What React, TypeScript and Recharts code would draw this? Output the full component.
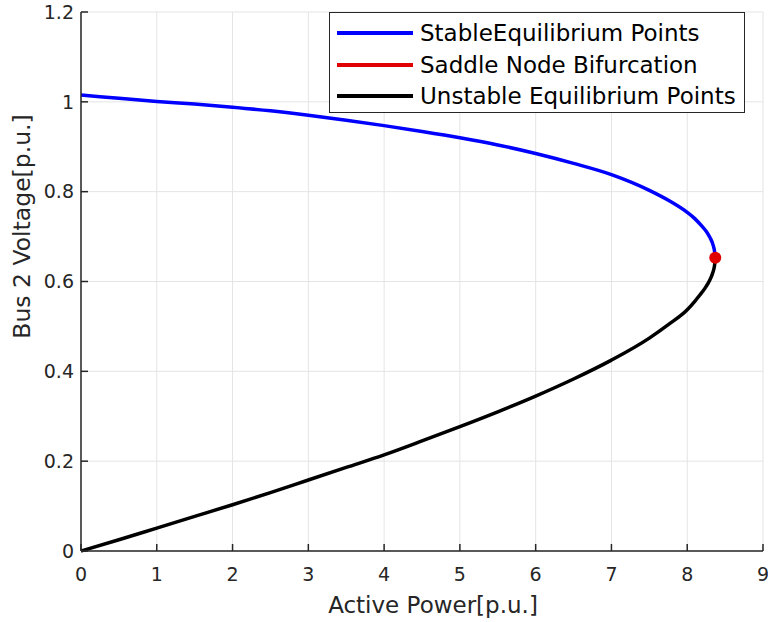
import React from 'react';
import { ComposedChart, Line, Scatter, XAxis, YAxis, CartesianGrid, Legend } from 'recharts';

const P_STABLE = [0, 0.5, 1, 1.5, 2, 2.5, 3, 3.5, 4, 4.5, 5, 5.5, 6, 6.5, 7, 7.5, 7.75, 8, 8.1, 8.2, 8.25, 8.3, 8.33, 8.35, 8.36, 8.37];
const V_STABLE = [1.015, 1.008, 1.001, 0.995, 0.988, 0.98, 0.97, 0.959, 0.947, 0.934, 0.92, 0.904, 0.885, 0.863, 0.838, 0.803, 0.781, 0.754, 0.74, 0.722, 0.712, 0.698, 0.687, 0.676, 0.668, 0.653];

const P_UNSTABLE = [0, 0.5, 1, 1.5, 2, 2.5, 3, 3.5, 4, 4.5, 5, 5.5, 6, 6.5, 7, 7.5, 7.75, 8, 8.1, 8.2, 8.25, 8.3, 8.33, 8.35, 8.36, 8.37];
const V_UNSTABLE = [0, 0.025, 0.051, 0.077, 0.103, 0.13, 0.158, 0.186, 0.214, 0.245, 0.277, 0.31, 0.345, 0.383, 0.425, 0.474, 0.504, 0.537, 0.556, 0.577, 0.589, 0.604, 0.616, 0.627, 0.635, 0.653];

const P_SADDLE = [8.37];
const V_SADDLE = [0.653];

const X_TICKS = [0, 1, 2, 3, 4, 5, 6, 7, 8, 9];
const Y_TICKS = [0, 0.2, 0.4, 0.6, 0.8, 1, 1.2];

const SERIES_NAMES = ['StableEquilibrium Points', 'Saddle Node Bifurcation', 'Unstable Equilibrium Points'];
const SERIES_COLORS = ['#0000ff', '#e00000', '#000000'];

const X_LABEL = 'Active Power[p.u.]';
const Y_LABEL = 'Bus 2 Voltage[p.u.]';

const stableData = P_STABLE.map((p, i) => ({ P: p, V: V_STABLE[i] }));
const unstableData = P_UNSTABLE.map((p, i) => ({ P: p, V: V_UNSTABLE[i] }));
const saddleData = P_SADDLE.map((p, i) => ({ P: p, V: V_SADDLE[i] }));

const FONT = 'DejaVu Sans';
const AXIS_COLOR = '#262626';

const fmtY = (v: number) => (v === 0 ? '0' : v === 1 ? '1' : String(Number(v.toFixed(1))));

const LegendBox = () => (
  <div
    style={{
      position: 'relative',
      width: 416,
      height: 101,
      boxSizing: 'border-box',
      border: '1.5px solid #262626',
      background: '#fff',
      fontFamily: FONT,
      fontSize: 23,
      color: '#000',
      textAlign: 'left',
    }}
  >
    {SERIES_NAMES.map((n, i) => (
      <div
        key={n}
        style={{
          position: 'absolute',
          left: 7,
          top: [3, 35, 66][i],
          height: 33,
          display: 'flex',
          alignItems: 'center',
          whiteSpace: 'nowrap',
        }}
      >
        <div style={{ width: 76, height: 4, background: SERIES_COLORS[i], marginRight: 7 }} />
        <span>{n}</span>
      </div>
    ))}
  </div>
);

const YLabel = (props: any) => {
  const vb = props.viewBox || { x: 0, y: 12, width: 81, height: 539 };
  const cx = 30;
  const cy = vb.y + vb.height / 2 - 55;
  return (
    <text
      x={cx}
      y={cy}
      transform={`rotate(-90, ${cx}, ${cy})`}
      textAnchor="middle"
      fill={AXIS_COLOR}
      fontFamily={FONT}
      fontSize={23.5}
    >
      {Y_LABEL}
    </text>
  );
};

export default function App() {
  return (
    <div style={{ position: 'fixed', left: 0, top: 0, width: 768, height: 622, background: '#fff' }}>
      <ComposedChart width={768} height={622} margin={{ top: 12, right: 5, left: 0, bottom: 0 }}>
        <CartesianGrid stroke="#e4e4e4" strokeWidth={1} />
        <XAxis
          xAxisId={0}
          dataKey="P"
          type="number"
          domain={[0, 9]}
          ticks={X_TICKS}
          interval={0}
          height={71}
          stroke={AXIS_COLOR}
          strokeWidth={1.5}
          tickSize={-7}
          tickMargin={24}
          tick={{ fill: AXIS_COLOR, fontSize: 19, fontFamily: FONT }}
          label={{ value: X_LABEL, position: 'insideBottom', offset: 9, dx: 11, fill: AXIS_COLOR, fontSize: 23, fontFamily: FONT }}
        />
        <XAxis
          xAxisId="top"
          orientation="top"
          dataKey="P"
          type="number"
          domain={[0, 9]}
          ticks={X_TICKS}
          interval={0}
          height={0}
          stroke={AXIS_COLOR}
          strokeWidth={1.5}
          tickSize={-7}
          tick={false}
        />
        <YAxis
          yAxisId={0}
          dataKey="V"
          type="number"
          domain={[0, 1.2]}
          ticks={Y_TICKS}
          interval={0}
          width={81}
          stroke={AXIS_COLOR}
          strokeWidth={1.5}
          tickSize={-7}
          tickMargin={14}
          tickFormatter={fmtY}
          tick={{ fill: AXIS_COLOR, fontSize: 19, fontFamily: FONT }}
          label={<YLabel />}
        />
        <YAxis
          yAxisId="right"
          orientation="right"
          dataKey="V"
          type="number"
          domain={[0, 1.2]}
          ticks={Y_TICKS}
          interval={0}
          width={0}
          stroke={AXIS_COLOR}
          strokeWidth={1.5}
          tickSize={-7}
          tick={false}
        />
        <Legend
          layout="vertical"
          verticalAlign="middle"
          align="center"
          wrapperStyle={{ position: 'absolute', left: 329, top: 12, width: 416, height: 101 }}
          content={() => <LegendBox />}
        />
        <Line
          data={unstableData}
          dataKey="V"
          name={SERIES_NAMES[2]}
          type="monotone"
          stroke={SERIES_COLORS[2]}
          strokeWidth={3.5}
          dot={false}
          activeDot={false}
          isAnimationActive={false}
        />
        <Line
          data={stableData}
          dataKey="V"
          name={SERIES_NAMES[0]}
          type="monotone"
          stroke={SERIES_COLORS[0]}
          strokeWidth={3.5}
          dot={false}
          activeDot={false}
          isAnimationActive={false}
        />
        <Scatter
          data={saddleData}
          dataKey="V"
          name={SERIES_NAMES[1]}
          fill={SERIES_COLORS[1]}
          isAnimationActive={false}
          shape={(p: any) => <circle cx={p.cx} cy={p.cy} r={6} fill={SERIES_COLORS[1]} />}
        />
      </ComposedChart>
    </div>
  );
}
